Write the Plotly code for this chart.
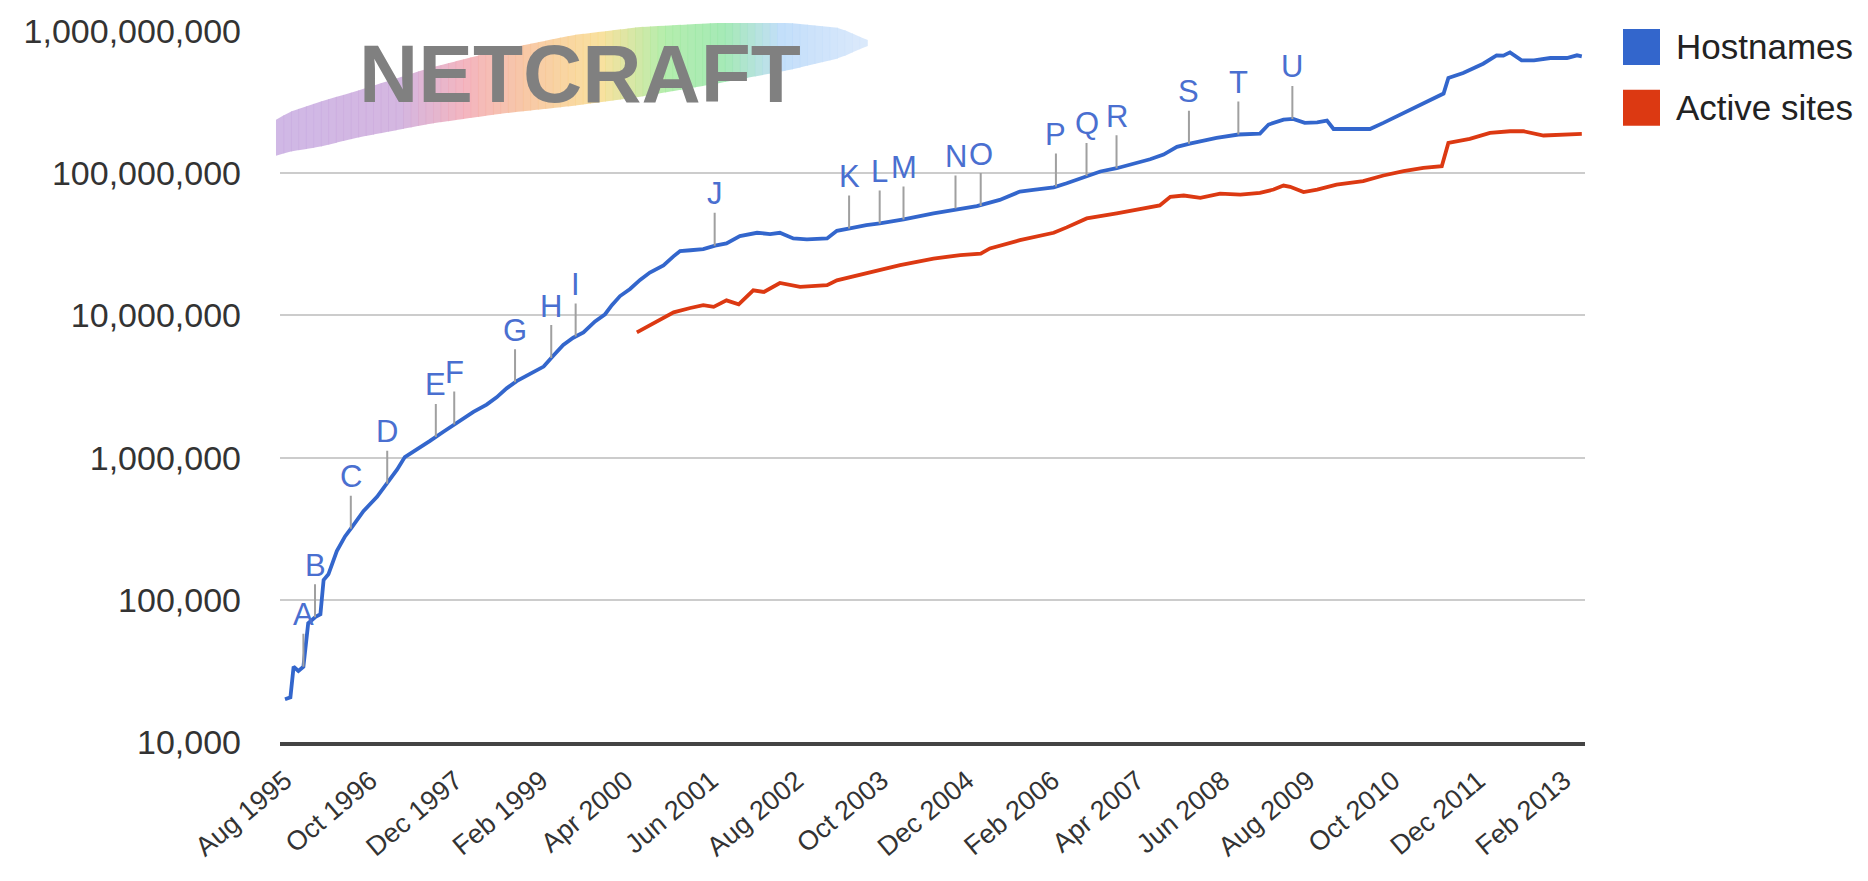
import numpy as np
import pandas as pd
import plotly.graph_objects as go

# ---------------- data ----------------
host_dates = ["1995-08-01","1995-08-28","1995-09-13","1995-10-07","1995-11-01","1995-11-25","1996-01-01","1996-01-25",
    "1996-02-10","1996-03-05","1996-04-16","1996-05-27","1996-06-29","1996-08-27","1996-11-03","1996-12-22",
    "1997-02-11","1997-03-22","1997-05-20","1997-07-26","1997-10-01","1997-12-07","1998-02-28","1998-05-05",
    "1998-06-24","1998-08-13","1998-10-02","1998-12-08","1999-02-14","1999-04-03","1999-05-23","1999-07-12",
    "1999-09-01","1999-10-29","1999-12-18","2000-01-21","2000-03-02","2000-04-21","2000-06-10","2000-07-29",
    "2000-10-05","2000-11-24","2000-12-27","2001-02-17","2001-04-22","2001-06-20","2001-08-16","2001-10-22",
    "2002-01-16","2002-03-22","2002-05-10","2002-07-16","2002-09-22","2003-01-01","2003-02-19","2003-04-25",
    "2003-07-16","2003-09-22","2004-01-19","2004-06-16","2004-10-28","2005-01-19","2005-05-13","2005-08-22",
    "2005-10-28","2006-02-07","2006-04-13","2006-07-22","2006-09-28","2006-12-19","2007-03-10","2007-06-04",
    "2007-08-10","2007-10-16","2007-12-19","2008-05-01","2008-08-19","2008-12-04","2009-01-16","2009-04-01",
    "2009-05-19","2009-07-16","2009-09-16","2009-11-04","2009-12-07","2010-02-28","2010-06-07","2010-08-13",
    "2010-11-22","2011-03-01","2011-06-10","2011-07-04","2011-09-16","2011-12-25","2012-03-01","2012-04-04",
    "2012-05-07","2012-07-04","2012-09-04","2012-11-25","2013-02-16","2013-04-07","2013-05-01"]
host_values = [20000,20600,33800,31600,33800,68400,76000,79100,
    138000,151000,220000,279000,322000,420000,530000,650000,
    822000,1009000,1135000,1312000,1521000,1762000,2099000,2360000,
    2655000,3069000,3451000,3882000,4365000,5200000,6194000,6966000,
    7603000,9078000,10186000,11803000,13677000,15346000,17783000,20000000,
    22491000,26002000,28379000,28708000,29242000,30974000,32063000,36141000,
    38107000,37325000,38107000,34754000,34198000,34754000,39355000,40926000,
    43152000,44361000,47315000,52240000,56624000,58749000,64863000,74302000,
    76208000,79621000,84918000,95719000,102802000,108393000,116413000,125300000,
    135200000,153100000,161400000,177000000,187100000,190100000,219800000,238200000,
    241000000,225900000,228000000,234400000,204600000,204600000,204600000,225900000,
    265500000,308300000,363100000,467700000,507000000,588800000,674500000,671400000,
    707900000,622300000,622300000,645700000,645700000,674500000,663700000]

active_dates = ["2000-05-25","2000-08-16","2000-11-25","2001-02-16","2001-04-22","2001-06-13","2001-08-16","2001-10-16",
    "2001-12-28","2002-02-19","2002-05-10","2002-08-19","2003-01-01","2003-02-19","2003-07-16","2004-01-01",
    "2004-06-16","2004-10-28","2005-02-07","2005-03-25","2005-08-22","2006-02-07","2006-04-13","2006-07-22",
    "2006-12-19","2007-03-10","2007-06-04","2007-07-22","2007-09-13","2007-11-19","2008-02-10","2008-05-19",
    "2008-08-28","2008-12-04","2009-02-10","2009-04-01","2009-05-04","2009-07-10","2009-09-16","2009-12-22",
    "2010-05-04","2010-08-13","2010-11-22","2011-03-01","2011-06-01","2011-07-04","2011-10-19","2012-01-28",
    "2012-05-07","2012-07-13","2012-10-22","2013-02-01","2013-05-01"]
active_values = [7603000,8810000,10500000,11272000,11803000,11480000,12764000,11967000,
    14997000,14622000,16904000,15849000,16293000,17660000,19907000,22542000,
    25119000,26546000,27227000,29580000,33806000,38107000,41591000,48084000,
    52240000,55081000,58340000,59290000,68230000,69660000,67140000,71940000,
    70790000,72780000,76740000,81850000,80170000,73620000,76740000,83180000,
    87900000,96380000,103270000,108890000,111940000,163300000,174200000,191900000,
    197200000,197200000,184100000,185800000,188800000]

event_labels = list("ABCDEFGHIJKLMNOPQRSTU")
event_dates = ["1995-11-01","1995-12-29","1996-06-25","1996-12-24","1997-08-24","1997-11-24","1998-09-24",
    "1999-03-24","1999-07-24","2001-06-18","2003-04-21","2003-09-21","2004-01-18","2004-10-24","2005-01-18",
    "2006-02-18","2006-07-21","2006-12-18","2007-12-15","2008-08-18","2009-05-15"]

tick_dates = ["1995-08-01","1996-10-01","1997-12-01","1999-02-01","2000-04-01","2001-06-01","2002-08-01",
    "2003-10-01","2004-12-01","2006-02-01","2007-04-01","2008-06-01","2009-08-01","2010-10-01","2011-12-01","2013-02-01"]
tick_text = ["Aug 1995","Oct 1996","Dec 1997","Feb 1999","Apr 2000","Jun 2001","Aug 2002","Oct 2003",
    "Dec 2004","Feb 2006","Apr 2007","Jun 2008","Aug 2009","Oct 2010","Dec 2011","Feb 2013"]
y_tickvals = [1e4, 1e5, 1e6, 1e7, 1e8, 1e9]
y_ticktext = ["10,000","100,000","1,000,000","10,000,000","100,000,000","1,000,000,000"]

series_names = ["Hostnames", "Active sites"]
series_colors = ["#3366cc", "#dc3912"]

# ---------------- layout geometry ----------------
W, H = 1868, 881
L, R, T, B = 280, 283, 29, 139
PW, PH = W - L - R, H - T - B
FONT = "Arial, Liberation Sans, sans-serif"

def px2paper(x, y):
    return (x - L) / PW, (H - B - y) / PH

fig = go.Figure()
fig.add_trace(go.Scatter(x=pd.to_datetime(host_dates), y=host_values, mode="lines",
                         name=series_names[0], line=dict(color=series_colors[0], width=3.8),
                         showlegend=False))
fig.add_trace(go.Scatter(x=pd.to_datetime(active_dates), y=active_values, mode="lines",
                         name=series_names[1], line=dict(color=series_colors[1], width=3.8),
                         showlegend=False))

# event annotations placed on the Hostnames line
ht = pd.to_datetime(host_dates).astype("int64").to_numpy()
hl = np.log10(np.array(host_values, dtype=float))
label_shift = {"N": -4, "O": 4}
annotations = []
for lab, d in zip(event_labels, event_dates):
    t = pd.Timestamp(d).value
    ylog = np.interp(t, ht, hl)
    annotations.append(dict(x=d, y=ylog, xref="x", yref="y", text=lab,
                            showarrow=True, arrowhead=0, arrowwidth=2, arrowcolor="#a0a0a0",
                            ax=0, ay=-52, standoff=0, startstandoff=0, xshift=label_shift.get(lab, 0),
                            font=dict(family=FONT, size=31, color="#4a6fd0")))

# logo
logo_upper = [(276,118),(290,110),(320,100),(357,89),(430,66),(500,48),(574,33),(640,25),(715,21),(790,21),(840,26),(867,38)]
logo_lower = [(276,154),(290,150),(320,145),(357,136),(430,122),(500,112),(574,104),(640,95),(715,82),(790,68),(840,56),(867,44)]
stops = [(276,(200,172,226)),(400,(205,170,220)),(465,(242,169,181)),(525,(247,191,152)),
         (600,(249,220,142)),(665,(168,235,160)),(725,(150,230,170)),(780,(185,217,249)),(867,(214,230,251))]
ux = np.array([p[0] for p in logo_upper], float); uy = np.array([p[1] for p in logo_upper], float)
lx = np.array([p[0] for p in logo_lower], float); ly = np.array([p[1] for p in logo_lower], float)
sx = np.array([s[0] for s in stops], float)
shapes = []
edges = np.linspace(276, 867, 80)
for a, b in zip(edges[:-1], edges[1:]):
    m = (a + b) / 2
    col = [int(np.interp(m, sx, [s[1][k] for s in stops])) for k in range(3)]
    b2 = b + 0.8
    pts = [(a, np.interp(a, ux, uy)), (b2, np.interp(b2, ux, uy)), (b2, np.interp(b2, lx, ly)), (a, np.interp(a, lx, ly))]
    pp = [px2paper(*p) for p in pts]
    path = "M " + " L ".join(f"{p[0]:.5f},{p[1]:.5f}" for p in pp) + " Z"
    shapes.append(dict(type="path", path=path, xref="paper", yref="paper",
                       fillcolor=f"rgb({col[0]},{col[1]},{col[2]})", opacity=0.85,
                       line=dict(width=0), layer="above"))
cx, cy = px2paper(580, 72)
annotations.append(dict(x=cx, y=cy, xref="paper", yref="paper", text="<b>NETCRAFT</b>", showarrow=False,
                        font=dict(family=FONT, size=82, color="#808080"), xanchor="center", yanchor="middle"))

# manual legend
for i, (nm, col) in enumerate(zip(series_names, series_colors)):
    top = 27 + i * 61
    x0, y0 = px2paper(1623, top)
    x1, y1 = px2paper(1660, top + 36)
    shapes.append(dict(type="rect", xref="paper", yref="paper", x0=x0, x1=x1, y0=y1, y1=y0,
                       fillcolor=col, line=dict(width=0)))
    tx, ty = px2paper(1674, top + 18)
    annotations.append(dict(x=tx, y=ty, xref="paper", yref="paper", text=nm, showarrow=False,
                            xanchor="left", yanchor="middle",
                            font=dict(family=FONT, size=35, color="#222222")))

fig.update_layout(
    width=W, height=H, margin=dict(l=L, r=R, t=T, b=B, pad=0),
    paper_bgcolor="white", plot_bgcolor="white",
    font=dict(family=FONT, color="#333333"),
    showlegend=False, shapes=shapes, annotations=annotations,
    xaxis=dict(type="date", range=["1995-07-07", "2013-05-17"], tickvals=tick_dates, ticktext=tick_text,
               tickangle=-40, tickfont=dict(size=27, color="#333333"), showgrid=False, zeroline=False,
               showline=True, linecolor="#444444", linewidth=4, ticks="", ticklabelstandoff=8),
    yaxis=dict(type="log", range=[4, 9], tickvals=y_tickvals, ticktext=y_ticktext,
               tickfont=dict(size=34, color="#333333"), showgrid=True, gridcolor="#cccccc", gridwidth=2,
               zeroline=False, showline=False, ticks="", ticklabelstandoff=38),
)

fig.write_html("out.html", config={"displayModeBar": False},
               post_script="document.body.style.margin='0';document.body.style.overflow='hidden';")
